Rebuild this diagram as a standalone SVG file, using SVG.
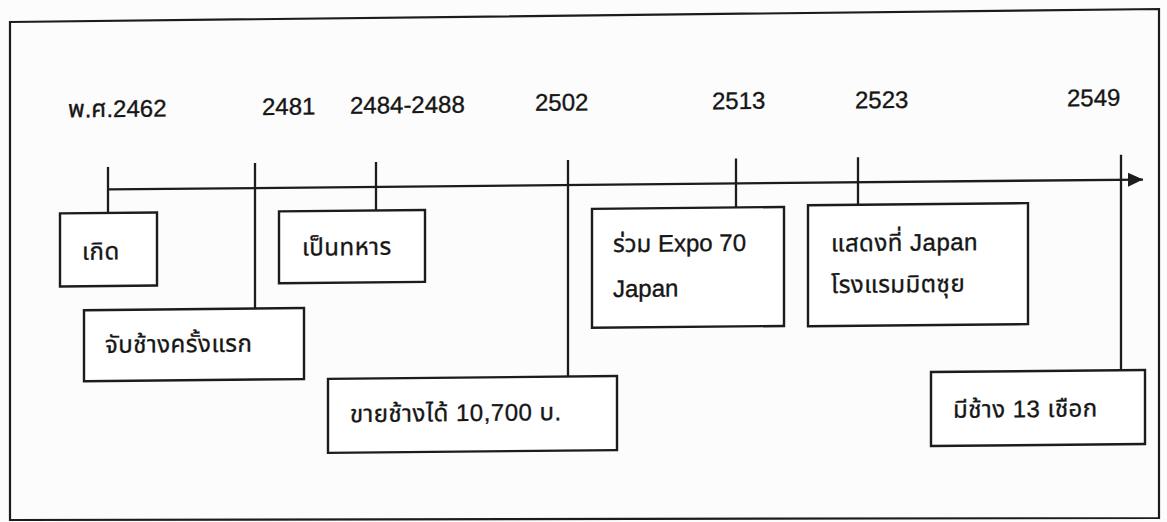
<svg xmlns="http://www.w3.org/2000/svg" width="1167" height="522" viewBox="0 0 1167 522">
  <style>
    .frame { fill: none; stroke: #1c1c1c; stroke-width: 2.2; }
    .line { stroke: #1c1c1c; stroke-width: 2.3; fill: none; }
    .box { fill: #ffffff; stroke: #1c1c1c; stroke-width: 2.4; }
    .t { font-family: "Liberation Sans", "Noto Sans Thai", "Noto Sans", "DejaVu Sans", sans-serif; font-size: 24px; fill: #161616; stroke: #161616; stroke-width: 0.35; }
    .th { letter-spacing: 0.5px; }
  </style>
  <defs>
    <marker id="arrow" markerUnits="userSpaceOnUse" markerWidth="16" markerHeight="16" viewBox="0 0 16 16" refX="15" refY="8" orient="auto">
      <path d="M0,1 L15,8 L0,15 Z" fill="#1c1c1c"/>
    </marker>
  </defs>
  <rect x="0" y="0" width="1167" height="522" fill="#fcfcfc"/>
  <polygon class="frame" points="10,22 1159,9 1159,518 10,520"/>
  <g transform="skewY(-0.55)">
    <g id="years">
      <text class="t" x="68" y="118">พ.ศ.2462</text>
      <text class="t" x="262" y="117.5">2481</text>
      <text class="t" x="350" y="117">2484-2488</text>
      <text class="t" x="535" y="116">2502</text>
      <text class="t" x="712" y="116">2513</text>
      <text class="t" x="855" y="116.5">2523</text>
      <text class="t" x="1067" y="116.5">2549</text>
    </g>
    <g id="connectors">
      <line class="line" x1="108" y1="190.5" x2="1143" y2="190.5" marker-end="url(#arrow)"/>
      <line class="line" x1="108" y1="168" x2="108" y2="214"/>
      <line class="line" x1="255" y1="165.5" x2="255" y2="311"/>
      <line class="line" x1="376" y1="165.5" x2="376" y2="214"/>
      <line class="line" x1="568" y1="165.5" x2="568" y2="382"/>
      <line class="line" x1="736" y1="165.5" x2="736" y2="214"/>
      <line class="line" x1="858" y1="165.5" x2="858" y2="213"/>
      <line class="line" x1="1121" y1="165.5" x2="1121" y2="381"/>
    </g>
    <g id="node-born">
      <rect class="box" x="60" y="214" width="97" height="73"/>
      <text class="t th" x="82" y="260.5">เกิด</text>
    </g>
    <g id="node-soldier">
      <rect class="box" x="279" y="214" width="146" height="72"/>
      <text class="t th" x="302" y="258.5">เป็นทหาร</text>
    </g>
    <g id="node-first-catch">
      <rect class="box" x="84" y="311" width="220" height="71"/>
      <text class="t th" x="105" y="354">จับช้างครั้งแรก</text>
    </g>
    <g id="node-sell">
      <rect class="box" x="328" y="382" width="289" height="74"/>
      <text class="t th" x="350" y="425.5">ขายช้างได้ 10,700 บ.</text>
    </g>
    <g id="node-expo">
      <rect class="box" x="592" y="214.5" width="192" height="119"/>
      <text class="t" x="613" y="258">ร่วม Expo 70</text>
      <text class="t" x="613" y="303">Japan</text>
    </g>
    <g id="node-show">
      <rect class="box" x="808" y="213" width="220" height="121"/>
      <text class="t th" x="831" y="259.5">แสดงที่  Japan</text>
      <text class="t th" x="831" y="301">โรงแรมมิตซุย</text>
    </g>
    <g id="node-elephants">
      <rect class="box" x="931" y="381" width="214" height="74"/>
      <text class="t th" x="953" y="427">มีช้าง 13 เชือก</text>
    </g>
  </g>
</svg>
